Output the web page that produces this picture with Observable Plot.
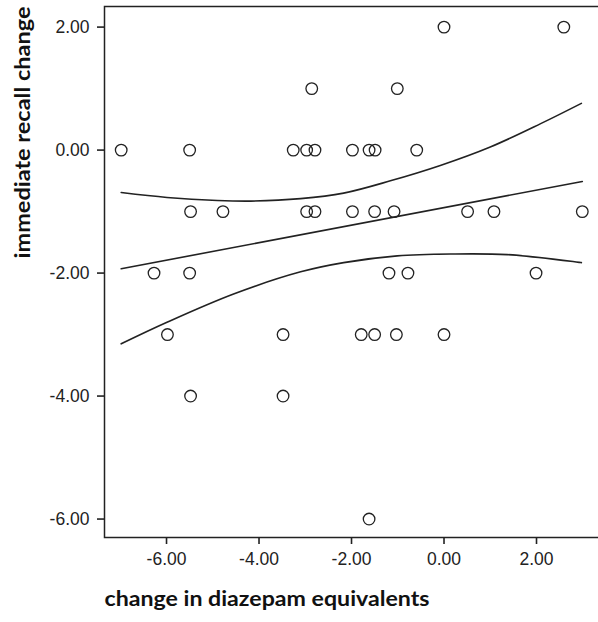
<!DOCTYPE html>
<html>
<head>
<meta charset="utf-8">
<script src="https://cdn.jsdelivr.net/npm/d3@7"></script>
<script src="https://cdn.jsdelivr.net/npm/@observablehq/plot@0.6"></script>
<style>
  html, body { margin: 0; padding: 0; background: #fff; overflow: hidden; }
</style>
</head>
<body>
<div id="chart"></div>
<script>
// Scatter data: change in diazepam equivalents (x) vs immediate recall change (y)
const diazepamChange = [
  0.00, 2.59,
  -2.86, -1.01,
  -6.98, -5.50, -3.26, -2.97, -2.79, -1.98, -1.62, -1.49, -0.59,
  -5.48, -4.78, -2.97, -2.79, -1.98, -1.50, -1.08, 0.51, 1.08, 2.99,
  -6.27, -5.50, -1.19, -0.78, 1.99,
  -5.98, -3.48, -1.79, -1.50, -1.03, 0.00,
  -5.48, -3.48,
  -1.62
];
const recallChange = [
  2, 2,
  1, 1,
  0, 0, 0, 0, 0, 0, 0, 0, 0,
  -1, -1, -1, -1, -1, -1, -1, -1, -1, -1,
  -2, -2, -2, -2, -2,
  -3, -3, -3, -3, -3, -3,
  -4, -4,
  -6
];

// Fitted line and 95% confidence curves
const fitX = [-6.98, 2.99];
const fitY = [-1.93, -0.51];
const upperX = [-6.98, -5.99, -4.90, -4.18, -3.10, -2.17, -1.16, -0.08, 1.00, 2.09, 2.97];
const upperY = [-0.69, -0.77, -0.82, -0.83, -0.79, -0.70, -0.50, -0.25, 0.05, 0.43, 0.76];
const lowerX = [-6.98, -5.99, -4.55, -3.10, -2.17, -1.01, 0.14, 1.37, 2.97];
const lowerY = [-3.15, -2.80, -2.34, -1.98, -1.83, -1.72, -1.69, -1.70, -1.83];

// Tick values
const xTicks = [-6, -4, -2, 0, 2];
const yTicks = [-6, -4, -2, 0, 2];

const xTitle = "change in diazepam equivalents";
const yTitle = "immediate recall change";

const points = diazepamChange.map((x, i) => ({x, y: recallChange[i]}));
const fit = fitX.map((x, i) => ({x, y: fitY[i]}));
const upper = upperX.map((x, i) => ({x, y: upperY[i]}));
const lower = lowerX.map((x, i) => ({x, y: lowerY[i]}));

const ink = "#222";
const titleFont = {fontFamily: "Lato, 'Open Sans', sans-serif", fontWeight: "bold", fontSize: 21, fill: "#111"};
const chart = Plot.plot({
  width: 598,
  height: 622,
  marginLeft: 104,
  marginRight: -1,
  marginTop: 6,
  marginBottom: 85,
  style: {
    fontFamily: "'Liberation Sans', Arial, sans-serif",
    fontSize: "17.5px",
    color: ink,
    background: "#fff"
  },
  x: {domain: [-7.341, 3.362]},
  y: {domain: [-6.30, 2.335]},
  marks: [
    Plot.frame({stroke: ink, strokeWidth: 1.5}),
    Plot.axisX({ticks: xTicks, tickFormat: d => d.toFixed(2), tickSize: 7, tickPadding: 8, label: null, strokeWidth: 1.6}),
    Plot.axisY({ticks: yTicks, tickFormat: d => d.toFixed(2), tickSize: 7, tickPadding: 8, label: null, strokeWidth: 1.6}),
    Plot.line(fit, {x: "x", y: "y", stroke: ink, strokeWidth: 1.6}),
    Plot.line(upper, {x: "x", y: "y", stroke: ink, strokeWidth: 1.6, curve: "catmull-rom"}),
    Plot.line(lower, {x: "x", y: "y", stroke: ink, strokeWidth: 1.6, curve: "catmull-rom"}),
    Plot.dot(points, {x: "x", y: "y", r: 5.8, stroke: ink, strokeWidth: 1.3, fill: "none"}),
    Plot.text([xTitle], {text: d => d, frameAnchor: "bottom-left", textAnchor: "start", dy: 68, ...titleFont}),
    Plot.text([yTitle], {text: d => d, frameAnchor: "top-left", textAnchor: "end", rotate: -90, dx: -89, ...titleFont})
  ]
});
// stretch titles to the widths they occupy in the reference
chart.querySelectorAll("text").forEach(t => {
  if (t.textContent === xTitle) { t.setAttribute("textLength", "325"); t.setAttribute("lengthAdjust", "spacingAndGlyphs"); }
  if (t.textContent === yTitle) { t.setAttribute("textLength", "252"); t.setAttribute("lengthAdjust", "spacingAndGlyphs"); }
});
document.getElementById("chart").append(chart);
</script>
</body>
</html>
